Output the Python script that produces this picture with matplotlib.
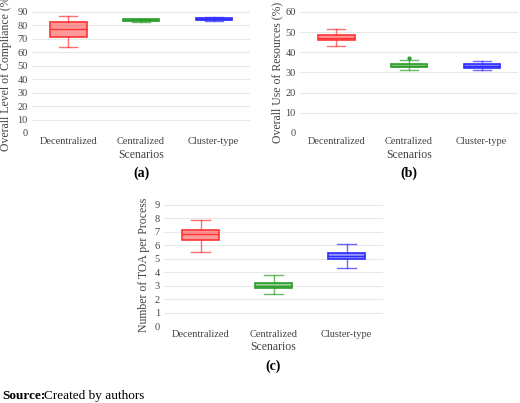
import matplotlib
matplotlib.use("Agg")
import matplotlib.pyplot as plt

plt.rcParams['font.family'] = ['Liberation Serif', 'DejaVu Serif']

scenarios = ["Decentralized", "Centralized", "Cluster-type"]
colors = ["#ff3333", "#2a9d2a", "#2b2bff"]
# whislo, q1, med, q3, whishi
compliance = [[63.5, 71.5, 77.0, 82.5, 87.0], [82.5, 83.3, 83.7, 84.3, 84.8], [83.0, 83.7, 84.3, 85.0, 85.8]]
resources = [[43.0, 46.0, 47.0, 48.5, 51.7], [31.0, 32.5, 33.3, 34.3, 36.0], [31.0, 32.3, 33.2, 34.0, 35.5]]
resources_fliers = [[], [37.3], []]
toa = [[5.5, 6.4, 6.8, 7.1, 7.9], [2.4, 2.8, 3.0, 3.2, 3.8], [4.3, 4.95, 5.2, 5.45, 6.1]]

W, H = 520, 403
fig = plt.figure(figsize=(W/100, H/100), dpi=100)

def panel(rect, data, fliers, ylabel, yticks, ylim, letter, xl_y, let_y, yl_x):
    x0, y0, x1, y1 = rect
    ax = fig.add_axes([x0/W, 1-y1/H, (x1-x0)/W, (y1-y0)/H])
    for i, (s, c) in enumerate(zip(data, colors)):
        st = dict(whislo=s[0], q1=s[1], med=s[2], q3=s[3], whishi=s[4], fliers=fliers[i] if fliers else [])
        ax.bxp([st], positions=[i], widths=0.5, patch_artist=True, showfliers=True,
               boxprops=dict(facecolor=matplotlib.colors.to_rgba(c, 0.5), edgecolor=c, linewidth=1.2),
               medianprops=dict(color=c, linewidth=1.0),
               whiskerprops=dict(color=c, linewidth=1.0, alpha=0.7),
               capprops=dict(color=c, linewidth=1.0, alpha=0.7),
               flierprops=dict(marker='o', markersize=2, markerfacecolor=c, markeredgecolor=c))
    ax.set_xlim(-0.5, 2.5)
    ax.set_ylim(*ylim)
    ax.set_yticks(yticks)
    ax.set_xticks(range(3))
    ax.set_xticklabels(scenarios, fontsize=7.5, color='#444444')
    ax.tick_params(axis='y', labelsize=7.5, colors='#444444', length=0, pad=3)
    ax.tick_params(axis='x', length=0, pad=3)
    for sp in ax.spines.values():
        sp.set_visible(False)
    ax.grid(axis='y', color='#e8e8e8', linewidth=0.8)
    ax.set_axisbelow(True)
    cx = (x0 + x1) / 2 / W
    fig.text(yl_x/W, 1-(y0+y1)/2/H, ylabel, rotation=90, ha='center', va='center', fontsize=8.5, color='#444444')
    fig.text(cx, 1-xl_y/H, "Scenarios", ha='center', va='center', fontsize=8.5, color='#444444')
    fig.text(cx, 1-let_y/H, letter, ha='center', va='center', fontsize=10, fontweight='bold')
    return ax

panel((32, 11, 250, 133), compliance, None, "Overall Level of Compliance (%)", range(0, 91, 10), (0, 90.5), "(a)", 155, 173, 6)
panel((300, 11, 518, 133), resources, resources_fliers, "Overall Use of Resources (%)", range(0, 61, 10), (0, 60.4), "(b)", 155, 173, 277)
panel((164, 204, 383, 326), toa, None, "Number of TOA per Process", range(0, 10), (0, 9.05), "(c)", 347, 366, 144)

fig.text(2/W, 1-396/H, "Source:", fontsize=9.5, fontweight='bold', va='center')
fig.text(44/W, 1-396/H, "Created by authors", fontsize=9.5, va='center')
fig.savefig("out.png", dpi=100)
